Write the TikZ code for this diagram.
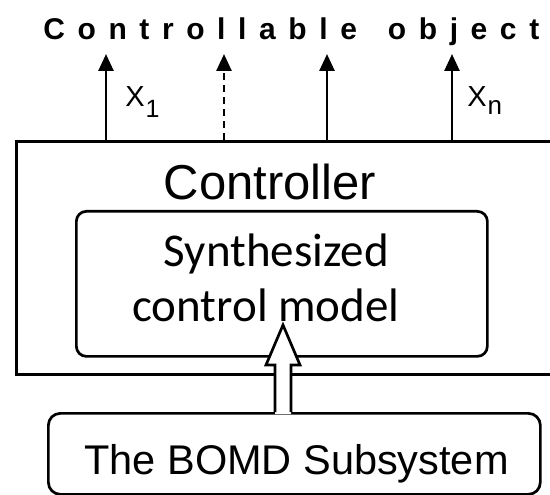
\documentclass[tikz,border=0pt]{standalone}
\usepackage{fontspec}
\setmainfont{Liberation Sans}
\newfontfamily\calib{Carlito}
\usetikzlibrary{arrows.meta,calc}
\begin{document}
\begin{tikzpicture}[x=1pt,y=-1pt,
  line width=2.7pt,
  box/.style={draw, inner sep=0pt, line width=2.7pt},
  outarrow/.style={-{Triangle[length=17pt,width=15pt]}, line width=2.6pt},
  lbl/.style={inner sep=0pt, anchor=base west}
]
\useasboundingbox (0,0) rectangle (550,495);
\clip (0,0) rectangle (550,495);
% controller box
\node[box, anchor=north west, minimum width=560pt, minimum height=233pt] (ctrl) at (15,140) {};
\node[inner sep=0pt, anchor=base, font=\fontsize{49}{49}\selectfont] (ctrltxt) at (270,200) {Controller};
% model box
\node[box, rounded corners=10pt, anchor=north west, minimum width=411pt, minimum height=145pt] (model) at (75,210) {};
\node[inner sep=0pt, anchor=base, font=\calib\fontsize{47}{47}\selectfont] (m1) at (276.5,266) {Synthesized};
\node[inner sep=0pt, anchor=base, font=\calib\fontsize{47}{47}\selectfont] (m2) at (266,321) {control model};
% BOMD box
\node[box, rounded corners=12pt, anchor=north west, minimum width=492pt, minimum height=81pt] (bomd) at (47,412) {};
\node[inner sep=0pt, anchor=base, font=\fontsize{41.5}{41.5}\selectfont] (btxt) at (296.5,474) {The BOMD Subsystem};
% hollow arrow
\fill[white] (275,414) -- (275,365) -- (266,365) -- (283,325) -- (300,365) -- (291,365) -- (291,414) -- cycle;
\draw[line join=miter] (275,412) -- (275,365) -- (266,365) -- (283,325) -- (300,365) -- (291,365) -- (291,412);
% top text
\node[inner sep=0pt, anchor=base west, font=\bfseries\fontsize{30}{30}\selectfont\addfontfeature{LetterSpace=42}] (obj) at (42,40) {Controllable\kern10pt{} object};
% output arrows
\coordinate (b1) at (106,140); \coordinate (t1) at (106,54);
\coordinate (b2) at (224,140); \coordinate (t2) at (224,54);
\coordinate (b3) at (327,140); \coordinate (t3) at (327,54);
\coordinate (b4) at (452,140); \coordinate (t4) at (452,54);
\draw[outarrow] (b1) -- (t1);
\draw[outarrow, dash pattern=on 7pt off 5pt] (b2) -- (t2);
\draw[outarrow] (b3) -- (t3);
\draw[outarrow] (b4) -- (t4);
% labels
\node[lbl] (x1) at (124,107) {\fontsize{29}{29}\selectfont X\kern1pt\raisebox{-11pt}{\fontsize{25}{25}\selectfont 1}};
\node[lbl] (xn) at (466,107) {\fontsize{29}{29}\selectfont X\kern1pt\raisebox{-8pt}{\fontsize{26}{26}\selectfont n}};
\end{tikzpicture}
\end{document}
